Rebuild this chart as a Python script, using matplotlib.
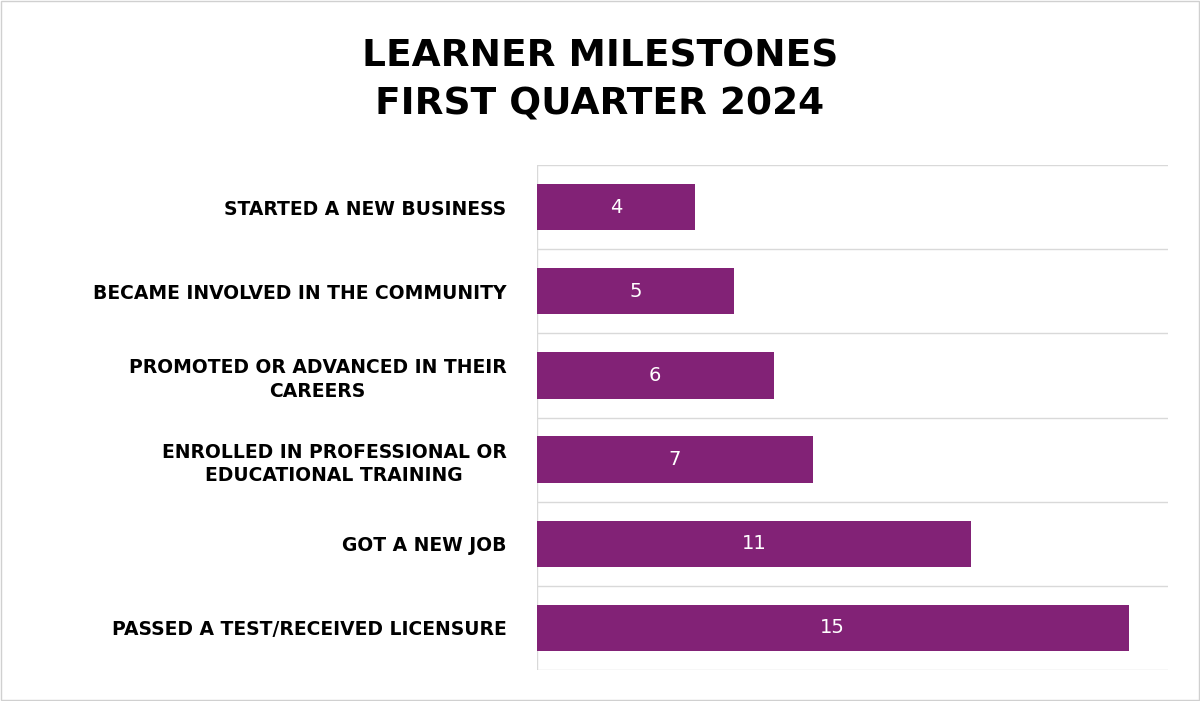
import matplotlib
matplotlib.use("Agg")
import matplotlib.pyplot as plt
from matplotlib.patches import Rectangle

categories = ["STARTED A NEW BUSINESS", "BECAME INVOLVED IN THE COMMUNITY",
              "PROMOTED OR ADVANCED IN THEIR\nCAREERS",
              "ENROLLED IN PROFESSIONAL OR\nEDUCATIONAL TRAINING",
              "GOT A NEW JOB", "PASSED A TEST/RECEIVED LICENSURE"]
values = [4, 5, 6, 7, 11, 15]
title = "LEARNER MILESTONES\nFIRST QUARTER 2024"

fig = plt.figure(figsize=(12, 7.01), dpi=100)
fig.patches.append(Rectangle((0.001, 0.001), 0.998, 0.998, transform=fig.transFigure,
                             fill=False, edgecolor="#d0d0d0", linewidth=1))
ax = fig.add_axes([0.4475, 0.0442, 0.5258, 0.7204])
pos = list(range(len(categories)))
ax.barh(pos, values, height=0.55, color="#822276")
ax.set_ylim(len(categories) - 0.5, -0.5)
ax.set_xlim(0, 16)
for p, v in zip(pos, values):
    ax.text(v / 2, p, str(v), ha="center", va="center", color="white", fontsize=14)
for y in [i - 0.5 for i in range(len(categories) + 1)]:
    ax.axhline(y, color="#d9d9d9", linewidth=1, zorder=0)
ax.axvline(0, color="#d9d9d9", linewidth=1, zorder=0)
for s in ax.spines.values():
    s.set_visible(False)
ax.set_xticks([])
ax.set_yticks(pos)
ax.set_yticklabels(categories, fontsize=13.5, fontweight="bold", linespacing=1.3)
ax.tick_params(axis="y", length=0, pad=22)
for t in ax.get_yticklabels():
    t.set_horizontalalignment("right")
    t.set_multialignment("center")
fig.text(0.5, 0.885, title, ha="center", va="center", fontsize=27, fontweight="bold",
         linespacing=1.45)
fig.savefig("out.png", dpi=100, facecolor="white")
